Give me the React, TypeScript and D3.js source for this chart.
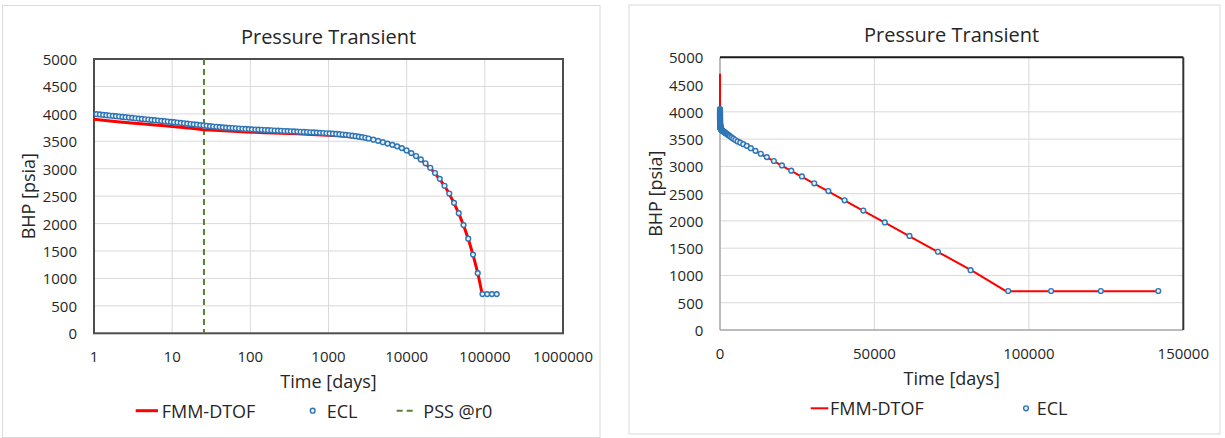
import React from "react";
import * as d3 from "d3";

// ---------------- data ----------------
const ECL_T = [
  0.05, 0.2, 0.5,
  1.08, 1.19, 1.31, 1.44, 1.58, 1.74, 1.91, 2.1, 2.31, 2.54, 2.8, 3.08, 3.39, 3.73, 4.1, 4.51,
  4.96, 5.46, 6.0, 6.6, 7.26, 7.99, 8.79, 9.67, 10.6, 11.7, 12.9, 14.2, 15.6, 17.2, 18.9, 20.8,
  22.9, 25.2, 27.7, 30.5, 33.5, 36.9, 40.6, 44.6, 49.1, 54.0, 59.4, 65.3, 71.9, 79.1, 87.0, 95.7,
  105, 116, 127, 140, 154, 169, 186, 205, 226, 248, 273, 300, 330, 363, 400, 440, 484, 532, 585,
  644, 708, 779, 857, 943, 1037, 1141, 1255, 1380, 1518, 1670, 1837, 2021, 2223, 2445, 2690, 2959,
  3255, 3750, 4310, 4960, 5700, 6560, 7540, 8670, 9970, 11470, 13190, 15160, 17440, 20050, 23060,
  26520, 30500, 35080, 40340, 46390, 53350, 61350, 70550, 81130, 93300, 107200, 123300, 141900,
];
const ECL_P = [
  4050, 4040, 4020,
  3995, 3989, 3982, 3976, 3970, 3964, 3958, 3952, 3945, 3939, 3933, 3927, 3920, 3914, 3908, 3902,
  3896, 3890, 3884, 3878, 3872, 3866, 3860, 3854, 3848, 3842, 3835, 3829, 3822, 3815, 3809, 3802,
  3795, 3789, 3782, 3776, 3770, 3764, 3759, 3754, 3749, 3745, 3741, 3737, 3733, 3729, 3725, 3722,
  3718, 3715, 3712, 3709, 3706, 3703, 3700, 3697, 3694, 3691, 3688, 3686, 3683, 3680, 3677, 3674, 3671, 3668, 3664,
  3661, 3658, 3654, 3651, 3647, 3643, 3639, 3634, 3629, 3623, 3617, 3610, 3602, 3594, 3585, 3575, 3564,
  3551, 3530, 3508, 3483, 3458, 3435, 3408, 3376, 3333, 3285, 3232, 3170, 3099, 3018, 2922,
  2815, 2690, 2548, 2378, 2190, 1972, 1724, 1435, 1096, 715, 715, 715, 715,
];

const FMM_T = [
  0.001, 0.1, 1, 1.5, 2, 3, 4, 6, 8, 10, 15, 20, 25, 30, 40, 60, 100, 150, 250, 400, 600, 1000,
  1500, 2000, 3000, 4000, 5000, 6000, 8000, 10000, 13000, 17000, 22000, 27000, 33000, 40000,
  47000, 55000, 63000, 72000, 82000, 92600, 141900,
];
const FMM_P = [
  4700, 4100, 3900, 3875, 3858, 3833, 3818, 3797, 3782, 3770, 3745, 3727, 3712, 3705, 3695, 3683,
  3667, 3657, 3645, 3636, 3626, 3612, 3596, 3580, 3550, 3518, 3480, 3445, 3385, 3325, 3232, 3108,
  2950, 2795, 2607, 2386, 2168, 1918, 1668, 1388, 1074, 712, 712,
];

const PSS_T = 25.5;

const Y_TICKS = [0, 500, 1000, 1500, 2000, 2500, 3000, 3500, 4000, 4500, 5000];
const X_TICKS_LOG = [1, 10, 100, 1000, 10000, 100000, 1000000];
const X_TICKS_LIN = [0, 50000, 100000, 150000];

const TITLE = "Pressure Transient";
const X_TITLE = "Time [days]";
const Y_TITLE = "BHP [psia]";

// ---------------- styles ----------------
const FONT = "'Open Sans', 'Noto Sans', sans-serif";
const TXT = "#262626";
const GRID = "#d9d9d9";
const RED = "#ff0000";
const BLUE = "#2e75b6";
const MARK_FILL = "#eaf2fa";
const GREEN = "#548235";

type Pt = { t: number; p: number };
const ecl: Pt[] = ECL_T.map((t, i) => ({ t, p: ECL_P[i] }));
const fmm: Pt[] = FMM_T.map((t, i) => ({ t, p: FMM_P[i] }));

function fmtTick(v: number) {
  return String(v);
}

function LeftChart() {
  const L = 94, R = 563, T = 59, B = 333.3;
  const x = d3.scaleLog().domain([1, 1e6]).range([L, R]);
  const y = d3.scaleLinear().domain([0, 5000]).range([B, T]);
  const line = d3.line<Pt>().x((d) => x(d.t)).y((d) => y(d.p));
  const cx = (L + R) / 2;
  return (
    <g>
      <rect x={2.5} y={5.5} width={597.5} height={432} fill="#fff" stroke={GRID} strokeWidth={1} />
      <defs>
        <clipPath id="clipL">
          <rect x={L} y={T - 5} width={R - L} height={B - T + 5} />
        </clipPath>
      </defs>
      {Y_TICKS.filter((v) => v > 0 && v < 5000).map((v) => (
        <line key={"gy" + v} x1={L} x2={R} y1={y(v)} y2={y(v)} stroke={GRID} strokeWidth={1} />
      ))}
      {X_TICKS_LOG.slice(1, -1).map((v) => (
        <line key={"gx" + v} x1={x(v)} x2={x(v)} y1={T} y2={B} stroke={GRID} strokeWidth={1} />
      ))}
      <rect x={L} y={T} width={R - L} height={B - T} fill="none" stroke="#4d4d4d" strokeWidth={2} />
      {Y_TICKS.map((v) => (
        <text key={"yl" + v} x={77} y={y(v)} textAnchor="end" dominantBaseline="central" fontSize={15} fill={TXT} fontFamily={FONT}>
          {fmtTick(v)}
        </text>
      ))}
      {X_TICKS_LOG.map((v) => (
        <text key={"xl" + v} x={x(v)} y={356} textAnchor="middle" dominantBaseline="central" fontSize={15} fill={TXT} fontFamily={FONT}>
          {fmtTick(v)}
        </text>
      ))}
      <line x1={x(PSS_T)} x2={x(PSS_T)} y1={y(5000)} y2={y(0)} stroke={GREEN} strokeWidth={2} strokeDasharray="6,4" />
      <path d={line(fmm) || ""} fill="none" stroke={RED} strokeWidth={3} clipPath="url(#clipL)" />
      {ecl.filter((d) => d.t >= 1).map((d, i) => (
        <circle key={"c" + i} cx={x(d.t)} cy={y(d.p)} r={2.4} fill={MARK_FILL} stroke={BLUE} strokeWidth={1.4} />
      ))}
      <text x={cx} y={36} textAnchor="middle" dominantBaseline="central" fontSize={20} fill={TXT} fontFamily={FONT}>{TITLE}</text>
      <text x={cx} y={381} textAnchor="middle" dominantBaseline="central" fontSize={18} fill={TXT} fontFamily={FONT}>{X_TITLE}</text>
      <text transform={`translate(28,${(T + B) / 2}) rotate(-90)`} textAnchor="middle" dominantBaseline="central" fontSize={18} fill={TXT} fontFamily={FONT}>{Y_TITLE}</text>
      {/* legend */}
      <line x1={135.7} x2={158} y1={410.7} y2={410.7} stroke={RED} strokeWidth={3} />
      <text x={161.7} y={410.7} dominantBaseline="central" fontSize={18} fill={TXT} fontFamily={FONT}>FMM-DTOF</text>
      <circle cx={312.7} cy={410.7} r={2.4} fill={MARK_FILL} stroke={BLUE} strokeWidth={1.4} />
      <text x={326.7} y={410.7} dominantBaseline="central" fontSize={18} fill={TXT} fontFamily={FONT}>ECL</text>
      <line x1={396.7} x2={415} y1={410.7} y2={410.7} stroke={GREEN} strokeWidth={2} strokeDasharray="6,4" />
      <text x={423.3} y={410.7} dominantBaseline="central" fontSize={18} fill={TXT} fontFamily={FONT}>PSS @r0</text>
    </g>
  );
}

function RightChart() {
  const L = 720, R = 1183.3, T = 57.3, B = 330;
  const x = d3.scaleLinear().domain([0, 150000]).range([L, R]);
  const y = d3.scaleLinear().domain([0, 5000]).range([B, T]);
  const line = d3.line<Pt>().x((d) => x(d.t)).y((d) => y(d.p));
  const cx = (L + R) / 2;
  return (
    <g>
      <rect x={629} y={5} width={591} height={429} fill="#fff" stroke={GRID} strokeWidth={1} />
      {Y_TICKS.filter((v) => v > 0 && v < 5000).map((v) => (
        <line key={"gy" + v} x1={L} x2={R} y1={y(v)} y2={y(v)} stroke={GRID} strokeWidth={1} />
      ))}
      {X_TICKS_LIN.slice(1, -1).map((v) => (
        <line key={"gx" + v} x1={x(v)} x2={x(v)} y1={T} y2={B} stroke={GRID} strokeWidth={1} />
      ))}
      <line x1={L} x2={L} y1={T} y2={B} stroke="#a6a6a6" strokeWidth={1.5} />
      <line x1={L} x2={R} y1={B} y2={B} stroke="#a6a6a6" strokeWidth={1.5} />
      <line x1={L} x2={R} y1={T} y2={T} stroke="#1a1a1a" strokeWidth={2} />
      <line x1={R} x2={R} y1={T} y2={B} stroke="#333" strokeWidth={2} />
      {Y_TICKS.map((v) => (
        <text key={"yl" + v} x={703.3} y={y(v)} textAnchor="end" dominantBaseline="central" fontSize={15} fill={TXT} fontFamily={FONT}>
          {fmtTick(v)}
        </text>
      ))}
      {X_TICKS_LIN.map((v) => (
        <text key={"xl" + v} x={x(v)} y={353} textAnchor="middle" dominantBaseline="central" fontSize={15} fill={TXT} fontFamily={FONT}>
          {fmtTick(v)}
        </text>
      ))}
      <path d={line(fmm) || ""} fill="none" stroke={RED} strokeWidth={2} />
      {ecl.map((d, i) => (
        <circle key={"c" + i} cx={x(d.t)} cy={y(d.p)} r={2.4} fill={MARK_FILL} stroke={BLUE} strokeWidth={1.4} />
      ))}
      <text x={cx} y={34.7} textAnchor="middle" dominantBaseline="central" fontSize={20} fill={TXT} fontFamily={FONT}>{TITLE}</text>
      <text x={cx} y={378} textAnchor="middle" dominantBaseline="central" fontSize={18} fill={TXT} fontFamily={FONT}>{X_TITLE}</text>
      <text transform={`translate(655,${(T + B) / 2}) rotate(-90)`} textAnchor="middle" dominantBaseline="central" fontSize={18} fill={TXT} fontFamily={FONT}>{Y_TITLE}</text>
      <line x1={810.7} x2={828.3} y1={408.3} y2={408.3} stroke={RED} strokeWidth={2} />
      <text x={830} y={408.3} dominantBaseline="central" fontSize={18} fill={TXT} fontFamily={FONT}>FMM-DTOF</text>
      <circle cx={1026} cy={408.3} r={2.4} fill={MARK_FILL} stroke={BLUE} strokeWidth={1.4} />
      <text x={1036.7} y={408.3} dominantBaseline="central" fontSize={18} fill={TXT} fontFamily={FONT}>ECL</text>
    </g>
  );
}

export default function App() {
  return (
    <svg width={1225} height={438} style={{ position: "absolute", left: 0, top: 0, background: "#fff" }}>
      <LeftChart />
      <RightChart />
    </svg>
  );
}
